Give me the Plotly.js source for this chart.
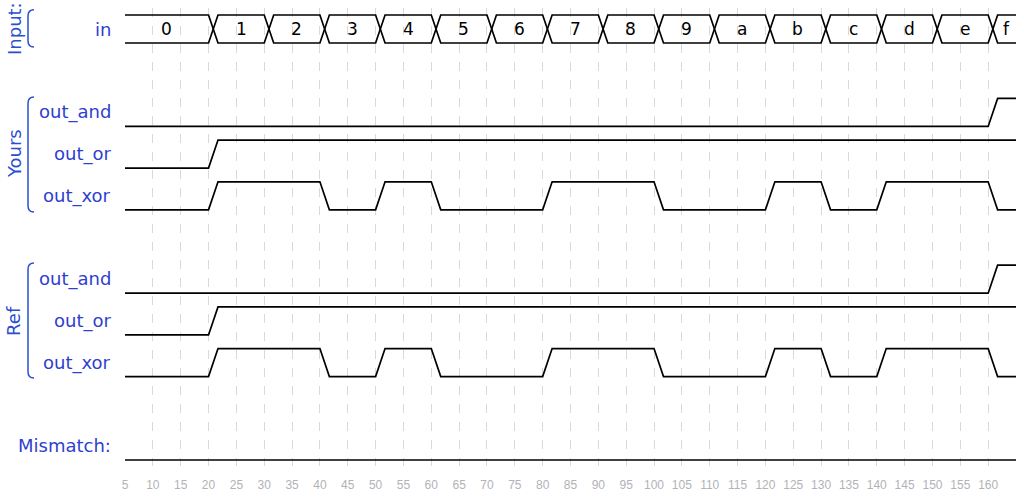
<!DOCTYPE html>
<html>
<head>
<meta charset="utf-8">
<script src="https://cdn.plot.ly/plotly-3.0.1.min.js"></script>
<style>html,body{margin:0;padding:0;background:#fff;}#chart{width:1024px;height:497px;}</style>
</head>
<body>
<div id="chart"></div>
<script>
// ---- data ----
var startTime = 5;
var endTime = 165;
var changeTimes = [20, 30, 40, 50, 60, 70, 80, 90, 100, 110, 120, 130, 140, 150, 160];
var inValues = ['0','1','2','3','4','5','6','7','8','9','a','b','c','d','e','f'];
var yoursAnd = [0,0,0,0,0,0,0,0,0,0,0,0,0,0,0,1];
var yoursOr  = [0,1,1,1,1,1,1,1,1,1,1,1,1,1,1,1];
var yoursXor = [0,1,1,0,1,0,0,1,1,0,0,1,0,1,1,0];
var refAnd   = [0,0,0,0,0,0,0,0,0,0,0,0,0,0,0,1];
var refOr    = [0,1,1,1,1,1,1,1,1,1,1,1,1,1,1,1];
var refXor   = [0,1,1,0,1,0,0,1,1,0,0,1,0,1,1,0];
var mismatch = [0,0,0,0,0,0,0,0,0,0,0,0,0,0,0,0];
var tickValues = [];
for (var t = 5; t <= 165; t += 5) tickValues.push(t);

// ---- layout constants ----
var D = 1.7;        // transition ramp (time units)
var H = 0.336;      // half swing (row units)
var BLUE = '#2a4fd0';
var TXT = '#2f3fcf';
var FONT = 'DejaVu Sans, Verdana, sans-serif';

var bounds = [startTime].concat(changeTimes).concat([endTime]);

function signalTrace(vals, row) {
  var xs = [], ys = [];
  function yv(v){ return v ? row - H : row + H; }
  xs.push(startTime); ys.push(yv(vals[0]));
  for (var i = 0; i < changeTimes.length; i++) {
    var tc = changeTimes[i];
    if (vals[i+1] !== vals[i]) {
      xs.push(tc); ys.push(yv(vals[i]));
      xs.push(tc + D); ys.push(yv(vals[i+1]));
    }
  }
  xs.push(endTime); ys.push(yv(vals[vals.length-1]));
  return {x: xs, y: ys, type: 'scatter', mode: 'lines', hoverinfo: 'skip',
          line: {color: '#000', width: 1.7}, showlegend: false};
}

function busTraces(row) {
  var a = {x: [], y: []}, b = {x: [], y: []};
  var state = 0; // a on top
  a.x.push(startTime); a.y.push(row - H);
  b.x.push(startTime); b.y.push(row + H);
  for (var i = 0; i < changeTimes.length; i++) {
    var tc = changeTimes[i];
    var aTop = (state === 0);
    a.x.push(tc); a.y.push(aTop ? row - H : row + H);
    a.x.push(tc + D); a.y.push(aTop ? row + H : row - H);
    b.x.push(tc); b.y.push(aTop ? row + H : row - H);
    b.x.push(tc + D); b.y.push(aTop ? row - H : row + H);
    state = 1 - state;
  }
  a.x.push(endTime); a.y.push(a.y[a.y.length-1]);
  b.x.push(endTime); b.y.push(b.y[b.y.length-1]);
  var st = {type: 'scatter', mode: 'lines', hoverinfo: 'skip', showlegend: false,
            line: {color: '#000', width: 1.7}};
  return [Object.assign({x: a.x, y: a.y}, st), Object.assign({x: b.x, y: b.y}, st)];
}

var traces = [];
traces = traces.concat(busTraces(0));
traces.push(signalTrace(yoursAnd, 2));
traces.push(signalTrace(yoursOr, 3));
traces.push(signalTrace(yoursXor, 4));
traces.push(signalTrace(refAnd, 6));
traces.push(signalTrace(refOr, 7));
traces.push(signalTrace(refXor, 8));
traces.push(signalTrace(mismatch, 10));

// pixel helpers for annotations in paper coords
var PL = 125, PW = 891;
function px(xp){ return (xp - PL) / PW; }

var annotations = [];
// bus value labels
for (var i = 0; i < inValues.length; i++) {
  var s = bounds[i] + (i === 0 ? 0 : D);
  var e = bounds[i+1];
  annotations.push({x: (s + e) / 2, y: 0, xref: 'x', yref: 'y', text: inValues[i],
    showarrow: false, font: {family: FONT, size: 17, color: '#000'}});
}
// signal names
var names = [['in',0],['out_and',2],['out_or',3],['out_xor',4],['out_and',6],['out_or',7],['out_xor',8],['Mismatch:',10]];
names.forEach(function(n){
  annotations.push({x: px(113), y: n[1], xref: 'paper', yref: 'y', text: n[0],
    xanchor: 'right', yanchor: 'middle', showarrow: false,
    font: {family: FONT, size: 18, color: TXT}});
});
// group labels
var groups = [['Input:', 0], ['Yours', 3], ['Ref', 7]];
groups.forEach(function(g){
  annotations.push({x: px(14), y: g[1], xref: 'paper', yref: 'y', text: g[0],
    textangle: -90, xanchor: 'center', yanchor: 'middle', showarrow: false,
    font: {family: FONT, size: 18, color: BLUE}});
});

// brackets
function bracket(top, bot) {
  var x0 = px(28), x1 = px(34), c = 0.15;
  var path = 'M ' + x1 + ' ' + top + ' Q ' + x0 + ' ' + top + ' ' + x0 + ' ' + (top + c) +
             ' L ' + x0 + ' ' + (bot - c) + ' Q ' + x0 + ' ' + bot + ' ' + x1 + ' ' + bot;
  return {type: 'path', xref: 'paper', yref: 'y', path: path,
          line: {color: BLUE, width: 1.5}};
}
var shapes = [bracket(-0.46, 0.43), bracket(1.63, 4.39), bracket(5.61, 8.37)];

var layout = {
  width: 1024, height: 497,
  margin: {l: 125, r: 8, t: 8, b: 31, pad: 0},
  paper_bgcolor: '#fff', plot_bgcolor: '#fff',
  showlegend: false,
  xaxis: {range: [startTime, endTime], tickvals: tickValues,
    ticktext: tickValues.map(function(v){ return v === 165 ? '' : String(v); }),
    showgrid: true, gridcolor: '#d9d9d9', griddash: 'dash', gridwidth: 1,
    zeroline: false, showline: false, ticks: 'outside', ticklen: 8,
    tickcolor: 'rgba(0,0,0,0)',
    tickfont: {family: 'Liberation Sans, Arial, sans-serif', size: 12, color: '#b2b2b8'}},
  yaxis: {range: [10.48, -0.5036], showgrid: false, zeroline: false,
    showticklabels: false, showline: false, fixedrange: true},
  annotations: annotations,
  shapes: shapes
};

Plotly.newPlot('chart', traces, layout, {displayModeBar: false, staticPlot: true});
</script>
</body>
</html>
